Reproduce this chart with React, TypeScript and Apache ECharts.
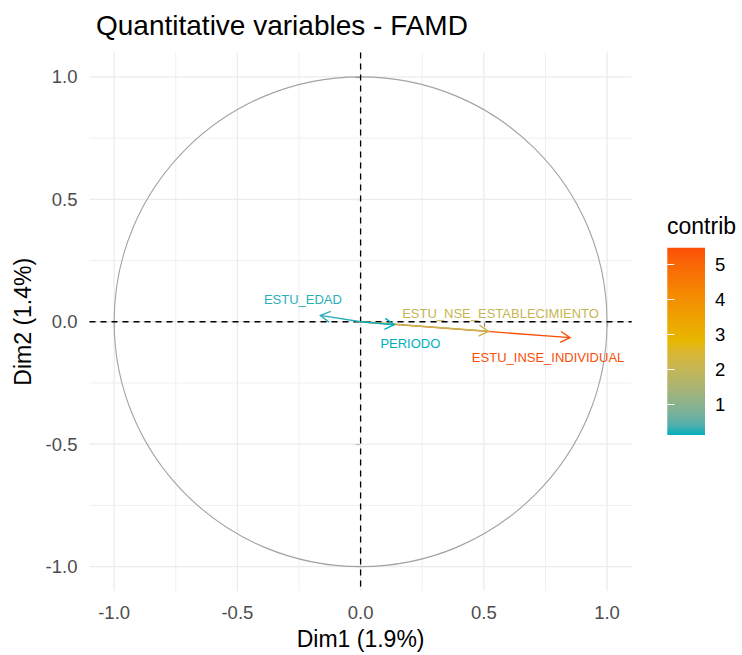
import React, { useEffect, useRef } from "react";
import * as echarts from "echarts";

const variables = ["ESTU_INSE_INDIVIDUAL", "ESTU_NSE_ESTABLECIMIENTO", "ESTU_EDAD", "PERIODO"];
const dim1 = [0.85, 0.519, -0.163, 0.137];
const dim2 = [-0.065, -0.039, 0.026, -0.012];
const contrib = [5.47, 2.04, 0.2, 0.12];
const majorTicks = [-1, -0.5, 0, 0.5, 1];
const minorTicks = [-0.75, -0.25, 0.25, 0.75];
const legendTicks = [1, 2, 3, 4, 5];
const gradientColors = ["#00AFBB", "#E7B800", "#FC4E07"];

const labelOffsets: Record<string, number[]> = {
  ESTU_INSE_INDIVIDUAL: [-22, 19.5],
  ESTU_NSE_ESTABLECIMIENTO: [12, -17.5],
  ESTU_EDAD: [-17.5, -15.7],
  PERIODO: [16, 19],
};

const FONT = "'Liberation Sans', Arial, sans-serif";
const cMin = Math.min(...contrib);
const cMax = Math.max(...contrib);

// --- CIELAB interpolation (like ggplot2's gradientn) ---
function hexToRgb(h: string) {
  return [1, 3, 5].map((i) => parseInt(h.slice(i, i + 2), 16));
}
function toLab(rgb: number[]) {
  const lin = rgb.map((c) => {
    const v = c / 255;
    return v <= 0.04045 ? v / 12.92 : Math.pow((v + 0.055) / 1.055, 2.4);
  });
  const [r, g, b] = lin;
  const X = (0.4124 * r + 0.3576 * g + 0.1805 * b) / 0.95047;
  const Y = 0.2126 * r + 0.7152 * g + 0.0722 * b;
  const Z = (0.0193 * r + 0.1192 * g + 0.9505 * b) / 1.08883;
  const f = (t: number) => (t > 0.008856 ? Math.cbrt(t) : 7.787 * t + 16 / 116);
  const fx = f(X), fy = f(Y), fz = f(Z);
  return [116 * fy - 16, 500 * (fx - fy), 200 * (fy - fz)];
}
function fromLab(lab: number[]) {
  const fy = (lab[0] + 16) / 116;
  const fx = fy + lab[1] / 500;
  const fz = fy - lab[2] / 200;
  const finv = (t: number) => (t * t * t > 0.008856 ? t * t * t : (t - 16 / 116) / 7.787);
  const X = 0.95047 * finv(fx), Y = finv(fy), Z = 1.08883 * finv(fz);
  const r = 3.2406 * X - 1.5372 * Y - 0.4986 * Z;
  const g = -0.9689 * X + 1.8758 * Y + 0.0415 * Z;
  const b = 0.0557 * X - 0.204 * Y + 1.057 * Z;
  return [r, g, b].map((c) => {
    const v = c <= 0.0031308 ? 12.92 * c : 1.055 * Math.pow(c, 1 / 2.4) - 0.055;
    return Math.max(0, Math.min(255, Math.round(v * 255)));
  });
}
const labStops = gradientColors.map((c) => toLab(hexToRgb(c)));
function colorAt(t: number) {
  const tt = Math.max(0, Math.min(1, t));
  const n = labStops.length - 1;
  const seg = Math.min(n - 1, Math.floor(tt * n));
  const lt = tt * n - seg;
  const a = labStops[seg];
  const b = labStops[seg + 1];
  const c = fromLab(a.map((x, i) => x + (b[i] - x) * lt));
  return `rgb(${c[0]},${c[1]},${c[2]})`;
}
function colorFor(v: number) {
  return colorAt((v - cMin) / (cMax - cMin));
}

export default function App() {
  const ref = useRef<HTMLDivElement>(null);
  useEffect(() => {
    document.body.style.margin = "0";
    const chart = echarts.init(ref.current!, null, { renderer: "svg" });
    const gridData = [
      ...majorTicks.map((v) => [v, 0, 1]),
      ...minorTicks.map((v) => [v, 0, 0]),
      ...majorTicks.map((v) => [v, 1, 1]),
      ...minorTicks.map((v) => [v, 1, 0]),
    ];
    const barStops = Array.from({ length: 21 }, (_, k) => ({ offset: k / 20, color: colorAt(k / 20) }));
    const tickLabel = {
      customValues: majorTicks,
      formatter: (v: number) => v.toFixed(1),
      fontFamily: FONT,
      fontSize: 18.5,
      color: "#4D4D4D",
      margin: 12,
    };
    const option: any = {
      animation: false,
      backgroundColor: "#fff",
      title: [
        {
          text: "Quantitative variables - FAMD",
          left: 91,
          top: 6,
          textStyle: { fontFamily: FONT, fontSize: 28, fontWeight: "normal", color: "#000" },
        },
        {
          text: "contrib",
          left: 662,
          top: 209,
          textStyle: { fontFamily: FONT, fontSize: 23, fontWeight: "normal", color: "#000" },
        },
      ],
      grid: [
        { left: 89.5, right: 110.3, top: 52.4, bottom: 61.4 },
        { left: 667.3, width: 37.7, top: 247.7, height: 187.3 },
      ],
      xAxis: [
        {
          gridIndex: 0,
          type: "value",
          min: -1.1,
          max: 1.1,
          name: "Dim1 (1.9%)",
          nameLocation: "middle",
          nameGap: 35,
          nameTextStyle: { fontFamily: FONT, fontSize: 23, color: "#000" },
          axisLine: { show: false },
          axisTick: { show: true, length: 5, lineStyle: { color: "#333", width: 1.1 }, customValues: majorTicks },
          axisLabel: tickLabel,
          splitLine: { show: false },
        },
        { gridIndex: 1, type: "value", min: 0, max: 1, show: false },
      ],
      yAxis: [
        {
          gridIndex: 0,
          type: "value",
          min: -1.1,
          max: 1.1,
          name: "Dim2 (1.4%)",
          nameLocation: "middle",
          nameGap: 49.5,
          nameTextStyle: { fontFamily: FONT, fontSize: 23, color: "#000" },
          axisLine: { show: false },
          axisTick: { show: true, length: 5, lineStyle: { color: "#333", width: 1.1 }, customValues: majorTicks },
          axisLabel: tickLabel,
          splitLine: { show: false },
        },
        {
          gridIndex: 1,
          type: "value",
          min: cMin,
          max: cMax,
          position: "right",
          z: 10,
          axisLine: { show: false },
          axisTick: { show: true, inside: true, length: 7, lineStyle: { color: "#fff", width: 1 }, customValues: legendTicks },
          axisLabel: { customValues: legendTicks, fontFamily: FONT, fontSize: 18.5, color: "#000", margin: 10 },
          splitLine: { show: false },
        },
        {
          gridIndex: 1,
          type: "value",
          min: cMin,
          max: cMax,
          position: "left",
          z: 10,
          axisLine: { show: false },
          axisTick: { show: true, inside: true, length: 7, lineStyle: { color: "#fff", width: 1 }, customValues: legendTicks },
          axisLabel: { show: false, customValues: legendTicks },
          splitLine: { show: false },
        },
      ],
      series: [
        {
          type: "custom",
          xAxisIndex: 0,
          yAxisIndex: 0,
          z: 1,
          silent: true,
          data: gridData,
          renderItem: (params: any, api: any) => {
            const v = api.value(0);
            const horiz = api.value(1) === 1;
            const major = api.value(2) === 1;
            const p1 = horiz ? api.coord([-1.1, v]) : api.coord([v, -1.1]);
            const p2 = horiz ? api.coord([1.1, v]) : api.coord([v, 1.1]);
            return {
              type: "line",
              shape: { x1: p1[0], y1: p1[1], x2: p2[0], y2: p2[1] },
              style: { stroke: "#EBEBEB", lineWidth: major ? 1.3 : 0.8 },
            };
          },
        },
        {
          type: "custom",
          xAxisIndex: 0,
          yAxisIndex: 0,
          z: 2,
          silent: true,
          data: [[0, 0]],
          renderItem: (params: any, api: any) => {
            const c = api.coord([0, 0]);
            const s = api.size([1, 1]);
            const l = api.coord([-1.1, 0]);
            const r = api.coord([1.1, 0]);
            const t = api.coord([0, 1.1]);
            const b = api.coord([0, -1.1]);
            return {
              type: "group",
              children: [
                {
                  type: "ellipse",
                  shape: { cx: c[0], cy: c[1], rx: s[0], ry: s[1] },
                  style: { stroke: "#A3A3A3", fill: "none", lineWidth: 1.1 },
                },
                {
                  type: "line",
                  shape: { x1: l[0], y1: c[1], x2: r[0], y2: c[1] },
                  style: { stroke: "#000", lineWidth: 1.3, lineDash: [6, 5] },
                },
                {
                  type: "line",
                  shape: { x1: c[0], y1: t[1], x2: c[0], y2: b[1] },
                  style: { stroke: "#000", lineWidth: 1.3, lineDash: [6, 5] },
                },
              ],
            };
          },
        },
        {
          type: "custom",
          xAxisIndex: 0,
          yAxisIndex: 0,
          z: 3,
          silent: true,
          data: dim1.map((x, i) => [x, dim2[i], contrib[i], i]),
          renderItem: (params: any, api: any) => {
            const i = api.value(3);
            const name = variables[i];
            const start = api.coord([0, 0]);
            const end = api.coord([api.value(0), api.value(1)]);
            const color = colorFor(api.value(2));
            const ang = Math.atan2(end[1] - start[1], end[0] - start[0]);
            const L = 11;
            const a = Math.PI / 6;
            const p1 = [end[0] - L * Math.cos(ang - a), end[1] - L * Math.sin(ang - a)];
            const p2 = [end[0] - L * Math.cos(ang + a), end[1] - L * Math.sin(ang + a)];
            const off = labelOffsets[name] || [0, 0];
            return {
              type: "group",
              children: [
                {
                  type: "line",
                  shape: { x1: start[0], y1: start[1], x2: end[0], y2: end[1] },
                  style: { stroke: color, lineWidth: 1.4 },
                },
                {
                  type: "polyline",
                  shape: { points: [p1, end, p2] },
                  style: { stroke: color, fill: "none", lineWidth: 1.4 },
                },
                {
                  type: "text",
                  x: end[0] + off[0],
                  y: end[1] + off[1],
                  style: {
                    text: name,
                    fill: color,
                    font: `13px ${FONT}`,
                    align: "center",
                    verticalAlign: "middle",
                  },
                },
              ],
            };
          },
        },
        {
          type: "custom",
          xAxisIndex: 1,
          yAxisIndex: 1,
          z: 2,
          silent: true,
          data: [[0, cMin]],
          renderItem: (params: any, api: any) => {
            const tl = api.coord([0, cMax]);
            const br = api.coord([1, cMin]);
            return {
              type: "rect",
              shape: { x: tl[0], y: tl[1], width: br[0] - tl[0], height: br[1] - tl[1] },
              style: { fill: new echarts.graphic.LinearGradient(0, 1, 0, 0, barStops) },
            };
          },
        },
      ],
    };
    chart.setOption(option);
    return () => chart.dispose();
  }, []);
  return <div ref={ref} style={{ width: 742, height: 655 }} />;
}
